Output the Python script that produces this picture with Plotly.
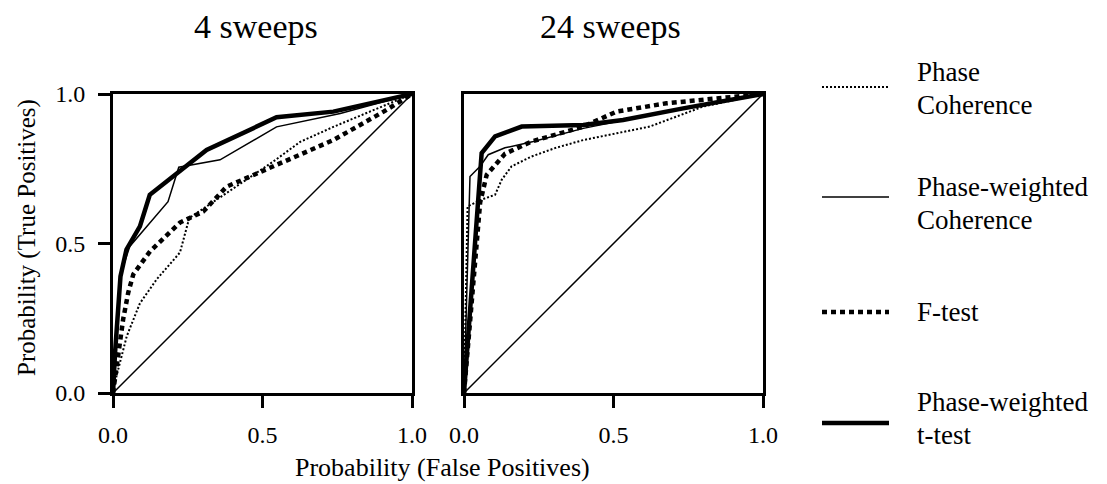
import plotly.graph_objects as go

# ---------------- data ----------------
panel_titles = ["4 sweeps", "24 sweeps"]
tick_vals = [0.0, 0.5, 1.0]
tick_text = ["0.0", "0.5", "1.0"]
x_title = "Probability (False Positives)"
y_title = "Probability (True Positives)"
series_names = ["Phase Coherence", "Phase-weighted Coherence", "F-test", "Phase-weighted t-test"]
legend_labels = [["Phase", "Coherence"], ["Phase-weighted", "Coherence"], ["F-test"],
                 ["Phase-weighted", "t-test"]]

chance_x = [0.0, 1.0]
chance_y = [0.0, 1.0]

# 4 sweeps
fp4_pc = [0, 0.012, 0.046, 0.09, 0.146, 0.224, 0.255, 0.346, 0.436, 0.536, 0.626, 0.737, 1.0]
tp4_pc = [0, 0.058, 0.19, 0.30, 0.38, 0.47, 0.585, 0.646, 0.707, 0.774, 0.84, 0.89, 1.0]
fp4_pwc = [0, 0.008, 0.023, 0.056, 0.184, 0.22, 0.358, 0.547, 0.76, 1.0]
tp4_pwc = [0, 0.17, 0.39, 0.49, 0.64, 0.755, 0.78, 0.89, 0.935, 1.0]
fp4_f = [0, 0.018, 0.034, 0.051, 0.068, 0.124, 0.224, 0.302, 0.38, 0.458, 0.547, 0.737, 0.905, 1.0]
tp4_f = [0, 0.136, 0.247, 0.336, 0.397, 0.474, 0.57, 0.607, 0.69, 0.724, 0.763, 0.846, 0.941, 1.0]
fp4_t = [0, 0.007, 0.025, 0.045, 0.09, 0.123, 0.313, 0.547, 0.737, 1.0]
tp4_t = [0, 0.137, 0.39, 0.48, 0.557, 0.663, 0.813, 0.922, 0.941, 1.0]

# 24 sweeps
fp24_pc = [0, 0.012, 0.059, 0.104, 0.126, 0.159, 0.226, 0.304, 0.399, 0.621, 0.8, 1.0]
tp24_pc = [0, 0.624, 0.647, 0.663, 0.713, 0.758, 0.791, 0.819, 0.846, 0.891, 0.958, 1.0]
fp24_pwc = [0, 0.02, 0.054, 0.081, 0.137, 0.232, 0.399, 0.621, 0.844, 1.0]
tp24_pwc = [0, 0.724, 0.758, 0.797, 0.82, 0.841, 0.885, 0.93, 0.969, 1.0]
fp24_f = [0, 0.054, 0.076, 0.104, 0.137, 0.226, 0.399, 0.51, 0.677, 1.0]
tp24_f = [0, 0.637, 0.73, 0.763, 0.80, 0.841, 0.891, 0.941, 0.969, 1.0]
fp24_t = [0, 0.059, 0.104, 0.193, 0.399, 0.532, 0.733, 1.0]
tp24_t = [0, 0.802, 0.858, 0.891, 0.896, 0.913, 0.952, 1.0]

# ---------------- styles ----------------
W, H = 1107, 484
FONT = "Liberation Serif"
styles = [
    dict(color="black", width=2, dash="2px,2px"),     # Phase Coherence
    dict(color="black", width=1.5, dash="solid"),     # Phase-weighted Coherence
    dict(color="black", width=4.5, dash="5px,4px"),   # F-test
    dict(color="black", width=4.5, dash="solid"),     # Phase-weighted t-test
]

panels = [
    ("x", "y", [(fp4_pc, tp4_pc), (fp4_pwc, tp4_pwc), (fp4_f, tp4_f), (fp4_t, tp4_t)]),
    ("x2", "y2", [(fp24_pc, tp24_pc), (fp24_pwc, tp24_pwc), (fp24_f, tp24_f), (fp24_t, tp24_t)]),
]

fig = go.Figure()
for xa, ya, series in panels:
    fig.add_trace(go.Scatter(x=chance_x, y=chance_y, mode="lines", xaxis=xa, yaxis=ya,
                             line=dict(color="black", width=1.5), showlegend=False,
                             hoverinfo="skip"))
    for name, (xs, ys), st in zip(series_names, series, styles):
        fig.add_trace(go.Scatter(x=xs, y=ys, mode="lines", name=name, xaxis=xa, yaxis=ya,
                                 line=st, showlegend=False))

def px_x(p):
    return p / W

def px_y(p):
    return 1 - p / H

dom_y = [px_y(393), px_y(94)]
axis_common = dict(range=[0, 1], showline=True, linecolor="black", linewidth=3, mirror=True,
                   showgrid=False, zeroline=False, tickvals=tick_vals, ticktext=tick_text,
                   ticks="outside", ticklen=12, tickwidth=3, tickcolor="black",
                   tickfont=dict(family=FONT, size=24, color="black"), fixedrange=True,
                   automargin=False)

fig.update_layout(
    width=W, height=H, margin=dict(l=0, r=0, t=0, b=0, pad=0, autoexpand=False),
    paper_bgcolor="white", plot_bgcolor="white", showlegend=False,
    font=dict(family=FONT, color="black"),
    xaxis=dict(domain=[px_x(113), px_x(412)], anchor="y", ticklabelstandoff=6, **axis_common),
    yaxis=dict(domain=dom_y, anchor="x", ticklabelstandoff=8, **axis_common),
    xaxis2=dict(domain=[px_x(464), px_x(763)], anchor="y2", ticklabelstandoff=6, **axis_common),
    yaxis2=dict(domain=dom_y, anchor="x2", **{**axis_common, "ticks": "", "showticklabels": False}),
)

ann = []
# panel titles
ann.append(dict(text=panel_titles[0], x=px_x(256), y=px_y(26), xref="paper", yref="paper",
                xanchor="center", yanchor="middle", showarrow=False,
                font=dict(family=FONT, size=34)))
ann.append(dict(text=panel_titles[1], x=px_x(610), y=px_y(26), xref="paper", yref="paper",
                xanchor="center", yanchor="middle", showarrow=False,
                font=dict(family=FONT, size=34)))
# axis titles
ann.append(dict(text=x_title, x=px_x(442), y=px_y(467), xref="paper", yref="paper",
                xanchor="center", yanchor="middle", showarrow=False,
                font=dict(family=FONT, size=26)))
ann.append(dict(text=y_title, x=px_x(27), y=px_y(238), xref="paper", yref="paper",
                xanchor="center", yanchor="middle", showarrow=False, textangle=-90,
                font=dict(family=FONT, size=25)))

# legend (manual): line y, text block centre y
legend_rows = [(87, 88), (197, 204), (312, 312), (423, 418)]
shapes = []
for st, (ly, ty), lines in zip(styles, legend_rows, legend_labels):
    shapes.append(dict(type="line", xref="paper", yref="paper",
                       x0=px_x(822), x1=px_x(889), y0=px_y(ly), y1=px_y(ly),
                       line=dict(color="black", width=st["width"], dash=st["dash"])))
    txt = "<br>".join('<span style="font-size:27px">%s</span>' % t for t in lines)
    ann.append(dict(text=txt, x=px_x(915), y=px_y(ty), xref="paper", yref="paper",
                    xanchor="left", yanchor="middle", align="left", showarrow=False,
                    font=dict(family=FONT, size=25)))

fig.update_layout(annotations=ann, shapes=shapes)
fig.write_html("out.html")
